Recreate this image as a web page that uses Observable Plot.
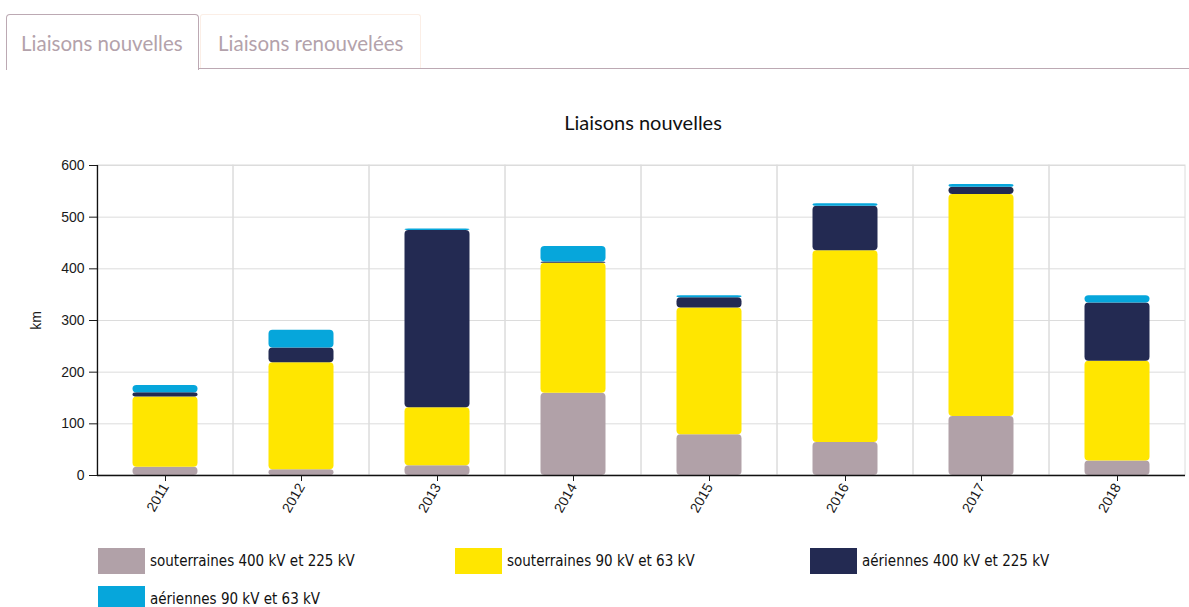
<!DOCTYPE html>
<html><head><meta charset="utf-8">
<script src="https://cdn.jsdelivr.net/npm/d3@7"></script>
<script src="https://cdn.jsdelivr.net/npm/@observablehq/plot@0.6"></script>
<style>
body{margin:0;background:#fff;width:1189px;height:607px;overflow:hidden;position:relative;font-family:Lato,"Open Sans",sans-serif;}
.tab{position:absolute;top:14px;height:54px;box-sizing:border-box;font-size:20.5px;color:#b3a2ab;line-height:56px;padding-left:14px;background:#fff;white-space:nowrap;}
#tab1{left:6px;width:193px;border:1px solid #bca9b3;border-bottom:none;border-radius:4px 4px 0 0;z-index:2;height:56px;}
#tab2{left:200px;width:221px;border:1px solid #fbeee6;border-bottom:none;border-radius:3px 3px 0 0;padding-left:17px;}
#tabline{position:absolute;left:198px;right:0;top:68px;height:1px;background:#bca9b3;}
#title{position:absolute;left:0;width:1286px;top:110px;text-align:center;font-size:20px;color:#111;}
#chart{position:absolute;left:0;top:140px;}
#chart svg text{font-size:14px !important;}
#legend{position:absolute;left:98px;top:548px;font-family:"Liberation Sans Narrow","DejaVu Sans Condensed",sans-serif;font-size:15px;color:#111;}
.item{position:absolute;display:flex;align-items:center;white-space:nowrap;}
.sw{width:47px;height:26px;margin-right:5px;}
</style></head>
<body>
<div class="tab" id="tab1">Liaisons nouvelles</div>
<div class="tab" id="tab2">Liaisons renouvelées</div>
<div id="tabline"></div>
<div id="title">Liaisons nouvelles</div>
<div id="chart"></div>
<div id="legend"></div>
<script>
const years = ["2011","2012","2013","2014","2015","2016","2017","2018"];
const seriesNames = ["souterraines 400 kV et 225 kV","souterraines 90 kV et 63 kV","aériennes 400 kV et 225 kV","aériennes 90 kV et 63 kV"];
const colors = ["#b1a1a8","#ffe600","#232a52","#06a6db"];
const souterraines400 = [16, 11, 19, 159, 79, 64, 114, 28];
const souterraines90 = [136, 207, 112, 252, 245, 371, 430, 193];
const aeriennes400 = [8, 29, 343, 2, 20, 86, 14, 113];
const aeriennes90 = [14, 34, 3, 30, 4, 5, 5, 14];
const yTicks = [0,100,200,300,400,500,600];

const seriesValues = [souterraines400, souterraines90, aeriennes400, aeriennes90];
const data = [];
seriesNames.forEach((s,i)=>years.forEach((y,j)=>data.push({year:y, series:s, value:seriesValues[i][j]})));

const chart = Plot.plot({
  width:1189, height:400,
  marginTop:25, marginBottom:65, marginLeft:97, marginRight:4,
  style:{fontFamily:"Liberation Sans, Arial, sans-serif", fontSize:"14px", color:"#1a1a1a", background:"transparent"},
  x:{domain:years, padding:0, label:null},
  y:{domain:[0,600], ticks:yTicks, label:"km"},
  color:{domain:seriesNames, range:colors},
  marks:[
    Plot.ruleY(yTicks, {stroke:"#dcdcdc", strokeWidth:1}),
    Plot.barY(years, {x:d=>d, y1:0, y2:600, fill:"none", stroke:"#dcdcdc", strokeWidth:1, inset:0}),
    Plot.barY(data, {x:"year", y:"value", fill:"series", rx:4, insetLeft:35.5, insetRight:35.5, insetTop:0, insetBottom:0}),
    Plot.ruleY([0], {stroke:"#111", strokeWidth:1.3}),
    Plot.ruleX(["2011"], {y1:0, y2:600, dx:-68, stroke:"#111", strokeWidth:1.3}),
    Plot.axisY({ticks:yTicks, tickSize:8, tickPadding:5, label:"km", labelAnchor:"center", labelArrow:"none", labelOffset:66, fontSize:14}),
    Plot.axisX({tickSize:6, tickRotate:-60, tickPadding:3, fontSize:14, label:null})
  ]
});
document.getElementById("chart").appendChild(chart);

const legend = document.getElementById("legend");
const pos = [[0,0],[357,0],[712,0],[0,38]];
seriesNames.forEach((s,i)=>{
  const it = document.createElement("div");
  it.className="item";
  it.style.left=pos[i][0]+"px"; it.style.top=pos[i][1]+"px";
  it.innerHTML = `<div class="sw" style="background:${colors[i]}"></div><span>${s}</span>`;
  legend.appendChild(it);
});
</script>
</body></html>
